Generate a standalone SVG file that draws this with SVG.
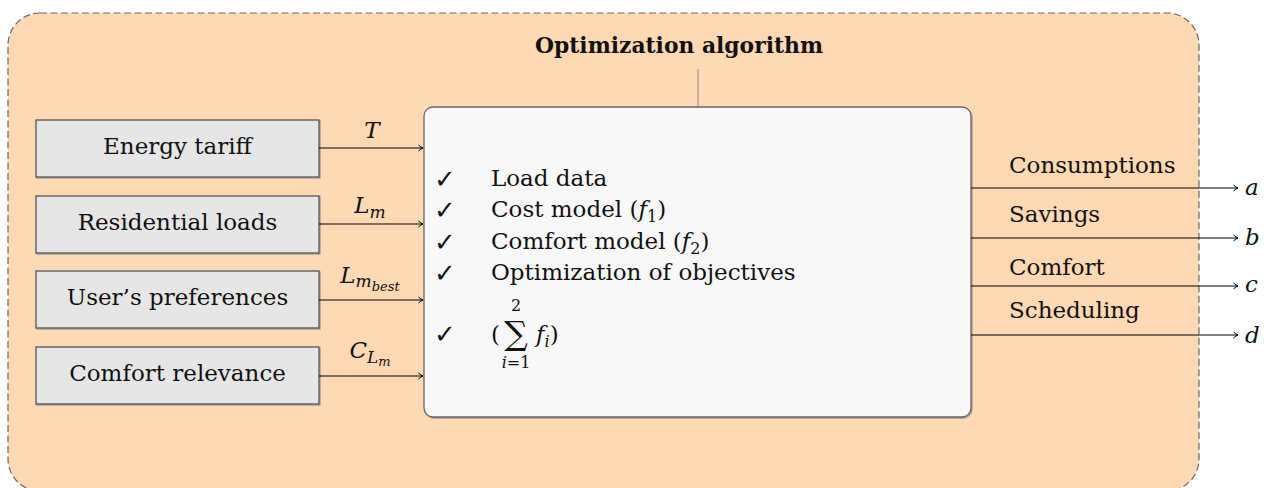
<svg xmlns="http://www.w3.org/2000/svg" width="1266" height="488" viewBox="0 0 1266 488">
<defs>
<marker id="arr" markerWidth="10" markerHeight="10" refX="9" refY="5" orient="auto" markerUnits="userSpaceOnUse">
<path d="M4.5,2 Q7,4.3 9,5 Q7,5.7 4.5,8" fill="none" stroke="#000" stroke-width="1"/>
</marker>
</defs>
<style>
.txt{font-family:"DejaVu Serif",serif;font-size:23px;fill:#111}
.math{font-family:"DejaVu Serif",serif;font-style:italic;font-size:23px;fill:#111}
.box{fill:#e6e6e6;stroke:#555;stroke-width:1.3}
.shadow{fill:none;stroke:#999;stroke-width:1.3}
.conn{stroke:#000;stroke-width:1.2;fill:none}
.chk{font-family:"DejaVu Sans",sans-serif;font-size:26px;fill:#111}
</style>
<g id="frame">
<rect x="8" y="13" width="1191" height="478" rx="32" ry="32" fill="#ffd9b3" stroke="#666" stroke-width="1.2" stroke-dasharray="7,3.5"/>
<text class="txt" x="679" y="53" text-anchor="middle" font-weight="bold" font-size="22" textLength="288" lengthAdjust="spacingAndGlyphs">Optimization algorithm</text>
<line x1="698" y1="69" x2="698" y2="107" stroke="#888" stroke-width="1"/>
</g>
<g id="energy-tariff">
<rect class="shadow" x="37" y="121" width="283" height="57"/>
<rect class="box" x="36" y="120" width="283" height="57"/>
<text class="txt" x="177.5" y="154" text-anchor="middle">Energy tariff</text>
</g>
<g id="residential-loads">
<rect class="shadow" x="37" y="197" width="283" height="57"/>
<rect class="box" x="36" y="196" width="283" height="57"/>
<text class="txt" x="177.5" y="230" text-anchor="middle">Residential loads</text>
</g>
<g id="users-preferences">
<rect class="shadow" x="37" y="272" width="283" height="57"/>
<rect class="box" x="36" y="271" width="283" height="57"/>
<text class="txt" x="177.5" y="305" text-anchor="middle">User’s preferences</text>
</g>
<g id="comfort-relevance">
<rect class="shadow" x="37" y="348" width="283" height="57"/>
<rect class="box" x="36" y="347" width="283" height="57"/>
<text class="txt" x="177.5" y="381" text-anchor="middle">Comfort relevance</text>
</g>
<g id="optimizer">
<rect x="425" y="108" width="547" height="310" rx="9" ry="9" fill="none" stroke="#999" stroke-width="1.3"/>
<rect x="424" y="107" width="547" height="310" rx="9" ry="9" fill="#f8f8f8" stroke="#666" stroke-width="1.3"/>
<text class="chk" x="434" y="188">✓</text>
<text class="chk" x="434" y="219">✓</text>
<text class="chk" x="434" y="251">✓</text>
<text class="chk" x="434" y="282">✓</text>
<text class="chk" x="434" y="343">✓</text>
<text class="txt" x="491" y="186">Load data</text>
<text class="txt" x="491" y="217">Cost model (<tspan font-style="italic">f</tspan><tspan font-size="16" dy="5">1</tspan><tspan dy="-5">)</tspan></text>
<text class="txt" x="491" y="249">Comfort model (<tspan font-style="italic">f</tspan><tspan font-size="16" dy="5">2</tspan><tspan dy="-5">)</tspan></text>
<text class="txt" x="491" y="280">Optimization of objectives</text>
<text class="txt" x="491" y="342">(</text>
<text x="516" y="345" text-anchor="middle" font-family="DejaVu Serif,serif" font-size="33" fill="#111">∑</text>
<text x="516" y="311" text-anchor="middle" font-family="DejaVu Serif,serif" font-size="16" fill="#111">2</text>
<text x="516" y="368" text-anchor="middle" font-family="DejaVu Serif,serif" font-size="16" fill="#111"><tspan font-style="italic">i</tspan>=1</text>
<text class="math" x="536" y="342">f<tspan font-size="16" dy="5">i</tspan><tspan font-style="normal" dy="-5">)</tspan></text>
</g>
<g id="connectors">
<line class="conn" x1="319" y1="148" x2="423" y2="148" marker-end="url(#arr)"/>
<line class="conn" x1="319" y1="224" x2="423" y2="224" marker-end="url(#arr)"/>
<line class="conn" x1="319" y1="300" x2="423" y2="300" marker-end="url(#arr)"/>
<line class="conn" x1="319" y1="376" x2="423" y2="376" marker-end="url(#arr)"/>
<line class="conn" x1="971" y1="188" x2="1238" y2="188" marker-end="url(#arr)"/>
<line class="conn" x1="971" y1="238" x2="1238" y2="238" marker-end="url(#arr)"/>
<line class="conn" x1="971" y1="286" x2="1238" y2="286" marker-end="url(#arr)"/>
<line class="conn" x1="971" y1="335" x2="1238" y2="335" marker-end="url(#arr)"/>
<text class="math" x="372" y="138" text-anchor="middle">T</text>
<text class="math" x="370" y="213" text-anchor="middle">L<tspan font-size="17" dy="5">m</tspan></text>
<text class="math" x="370" y="283" text-anchor="middle">L<tspan font-size="17" dy="4">m</tspan><tspan font-size="13" dy="4">best</tspan></text>
<text class="math" x="370" y="358" text-anchor="middle">C<tspan font-size="17" dy="5">L</tspan><tspan font-size="13" dy="3">m</tspan></text>
<text class="txt" x="1009" y="173">Consumptions</text>
<text class="txt" x="1009" y="222">Savings</text>
<text class="txt" x="1009" y="275">Comfort</text>
<text class="txt" x="1009" y="318">Scheduling</text>
<text class="math" x="1245" y="195">a</text>
<text class="math" x="1245" y="245">b</text>
<text class="math" x="1245" y="292">c</text>
<text class="math" x="1245" y="343">d</text>
</g>
</svg>
